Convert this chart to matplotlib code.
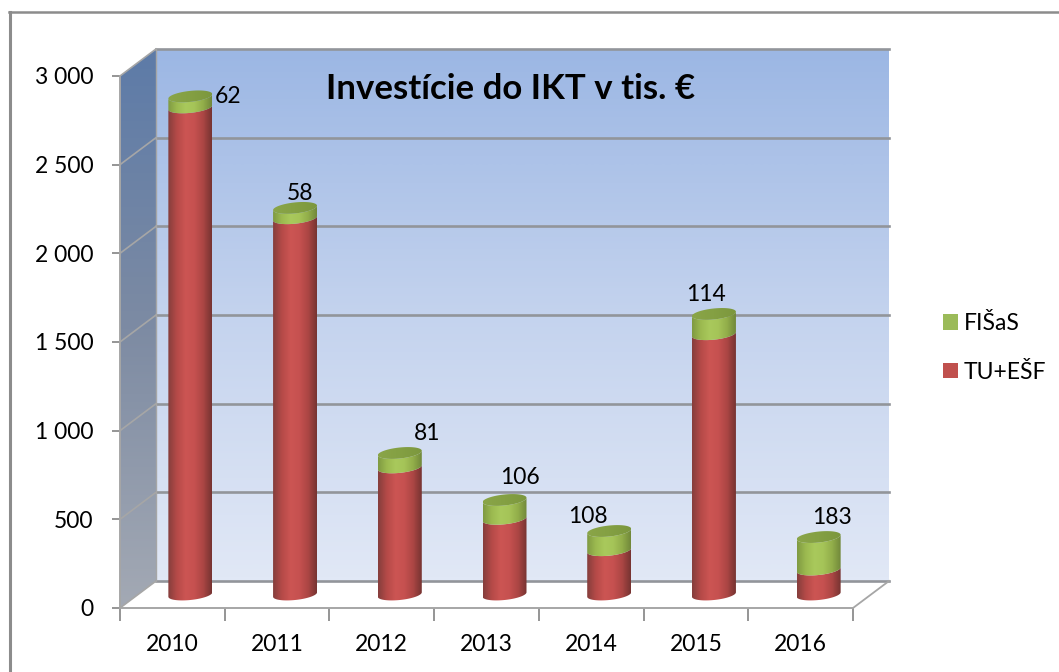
#!/usr/bin/env python3
import numpy as np, matplotlib
matplotlib.use("Agg")
import matplotlib.pyplot as plt
from matplotlib.colors import LinearSegmentedColormap
from matplotlib.patches import Patch, Polygon

plt.rcParams["font.family"] = ["Lato", "DejaVu Sans"]

YEARS = ["2010", "2011", "2012", "2013", "2014", "2015", "2016"]
TU_ESF = [2747, 2122, 717, 427, 250, 1468, 141]
FISAS = [62, 58, 81, 106, 108, 114, 183]
Y_TICKS = [0, 500, 1000, 1500, 2000, 2500, 3000]
Y_TICK_LABELS = ["0", "500", "1 000", "1 500", "2 000", "2 500", "3 000"]
TITLE = "Investície do IKT v tis. €"

# label nudges from the bar top, in pixels
LABEL_NUDGE = [(38, 0), (5, 14), (27, 19), (15, 22), (-21, 15), (-8, 19), (13, 20)]

W, H = 1059, 672
LEFT, RIGHT, BOTTOM, TOP = 120, 853, 608, 76   # front plane, pixels

# ---------- COLORS ----------
GRID = "#92959a"
EDGE = "#a6a6a6"
FRAME = "#8c8c8c"

PX_X = 7 / (RIGHT - LEFT)
PX_Y = 3000 / (BOTTOM - TOP)
DX = 36 * PX_X      # depth of the box
DY = 27 * PX_Y
BAR_W = 22 * PX_X
ELL_H = 5.5 * PX_Y
TILT = 2.2 * PX_Y
FS = 16.5

RED = LinearSegmentedColormap.from_list("red", ["#853e3c", "#b54a48", "#cc5553", "#c65150", "#ac4644", "#763432"])
GREEN = LinearSegmentedColormap.from_list("green", ["#7f9a42", "#9cba50", "#a9c95c", "#a5c458", "#92ae4a", "#71883a"])
TOPC = LinearSegmentedColormap.from_list("top", ["#8aa548", "#84a043", "#7c973e"])


def ellipse_pts(cx, cy, t):
    return cx + BAR_W * np.cos(t), cy + ELL_H * np.sin(t) + TILT * np.cos(t)


def fill_clipped(ax, pts, extent, cmap, z, vertical=False):
    grad = np.linspace(0, 1, 128)
    grad = grad[:, None] if vertical else grad[None, :]
    poly = Polygon(pts, closed=True, transform=ax.transData, fc="none", ec="none")
    poly.set_clip_on(False)
    ax.add_patch(poly)
    im = ax.imshow(grad, extent=extent, cmap=cmap, aspect="auto", origin="lower",
                   zorder=z, interpolation="bilinear")
    im.set_clip_box(fig.bbox)
    im.set_clip_path(poly)


def cylinder_part(ax, cx, y0, y1, cmap, z):
    lower = np.linspace(np.pi, 2 * np.pi, 50)  # front arc, screen-lower side
    xb = cx + BAR_W * np.cos(lower)
    yb = y0 + ELL_H * np.sin(lower) + TILT * np.cos(lower)
    yt = y1 + ELL_H * np.sin(lower) + TILT * np.cos(lower)
    pts = np.r_[np.c_[xb, yb], np.c_[xb, yt][::-1]]
    ext = (cx - BAR_W, cx + BAR_W, y0 - 2 * ELL_H, y1 + 2 * ELL_H)
    fill_clipped(ax, pts, ext, cmap, z)


fig = plt.figure(figsize=(W / 100, H / 100), dpi=100, facecolor="white")
ax = fig.add_axes([LEFT / W, 1 - BOTTOM / H, (RIGHT - LEFT) / W, (BOTTOM - TOP) / H])
ax.set_facecolor("none")

# frame of the slide, only top and left are visible
fig.add_artist(plt.Line2D([10 / W, 10 / W], [0, 1 - 12 / H], color=FRAME, lw=2.2))
fig.add_artist(plt.Line2D([9 / W, 1], [1 - 12 / H, 1 - 12 / H], color=FRAME, lw=1.8))

# walls
back_cmap = LinearSegmentedColormap.from_list("back", ["#e1e8f6", "#c4d3ee", "#9cb7e4"])
side_cmap = LinearSegmentedColormap.from_list("side", ["#a3a9b4", "#7d8ba3", "#5d7ba8"])
fill_clipped(ax, [(DX, DY), (7 + DX, DY), (7 + DX, 3000 + DY), (DX, 3000 + DY)],
             (DX, 7 + DX, DY, 3000 + DY), back_cmap, 1, vertical=True)
fill_clipped(ax, [(0, 0), (DX, DY), (DX, 3000 + DY), (0, 3000)],
             (0, DX, 0, 3000 + DY), side_cmap, 1, vertical=True)

for v in Y_TICKS:
    ax.plot([DX, 7 + DX], [v + DY, v + DY], color=GRID, lw=1.9, zorder=2, clip_on=False)
    ax.plot([0, DX], [v, v + DY], color=EDGE, lw=1.2, zorder=2, clip_on=False)
ax.plot([DX, DX], [DY, 3000 + DY], color=EDGE, lw=1, zorder=2, clip_on=False)
ax.plot([7, 7 + DX], [0, DY], color=EDGE, lw=1.3, zorder=2, clip_on=False)

# bars, left to right
totals = np.array(TU_ESF) + np.array(FISAS)
for i, (tu, fi, tot) in enumerate(zip(TU_ESF, FISAS, totals)):
    cx = i + 0.5 + DX / 2
    y0 = DY / 2
    z = 5 + i
    cylinder_part(ax, cx, y0, y0 + tu, RED, z)
    cylinder_part(ax, cx, y0 + tu, y0 + tot, GREEN, z + 0.1)
    t = np.linspace(0, 2 * np.pi, 90)
    xe, ye = ellipse_pts(cx, y0 + tot, t)
    fill_clipped(ax, np.c_[xe, ye], (cx - BAR_W, cx + BAR_W, y0 + tot - 2 * ELL_H, y0 + tot + 2 * ELL_H),
                 TOPC, z + 0.2)
    ax.annotate(str(fi), (cx, y0 + tot), xytext=LABEL_NUDGE[i], textcoords="offset pixels",
                ha="center", va="center", fontsize=FS, color="black", zorder=20)

ax.set_xlim(0, 7)
ax.set_ylim(0, 3000)

ax.set_xticks(range(8))
ax.set_xticklabels([])
ax.set_xticks(np.arange(7) + 0.5, YEARS, minor=True)
ax.tick_params(axis="x", which="major", length=9, width=1.3, color=FRAME)
ax.tick_params(axis="x", which="minor", length=0, pad=19, labelsize=FS)
ax.set_yticks(Y_TICKS, Y_TICK_LABELS)
ax.tick_params(axis="y", length=6, width=1.3, color=FRAME, pad=13, labelsize=FS)

for side in ("top", "right"):
    ax.spines[side].set_visible(False)
for side in ("left", "bottom"):
    ax.spines[side].set_color(EDGE)
    ax.spines[side].set_linewidth(1.4)
    ax.spines[side].set_zorder(3)

ax.text((511 - LEFT) * PX_X, (BOTTOM - 89) * PX_Y, TITLE, ha="center", va="center",
        fontsize=25, fontweight="bold", color="black", zorder=20)

handles = [Patch(fc="#9bbb59", ec="none", label="FIŠaS"), Patch(fc="#c0504d", ec="none", label="TU+EŠF")]
fig.legend(handles=handles, loc="center left", bbox_to_anchor=(943 / W, 1 - 348 / H), frameon=False,
           fontsize=FS, handlelength=0.66, handleheight=0.66, handletextpad=0.25, labelspacing=1.2,
           borderpad=0, borderaxespad=0)

fig.savefig("out.png", dpi=100)
plt.close(fig)
